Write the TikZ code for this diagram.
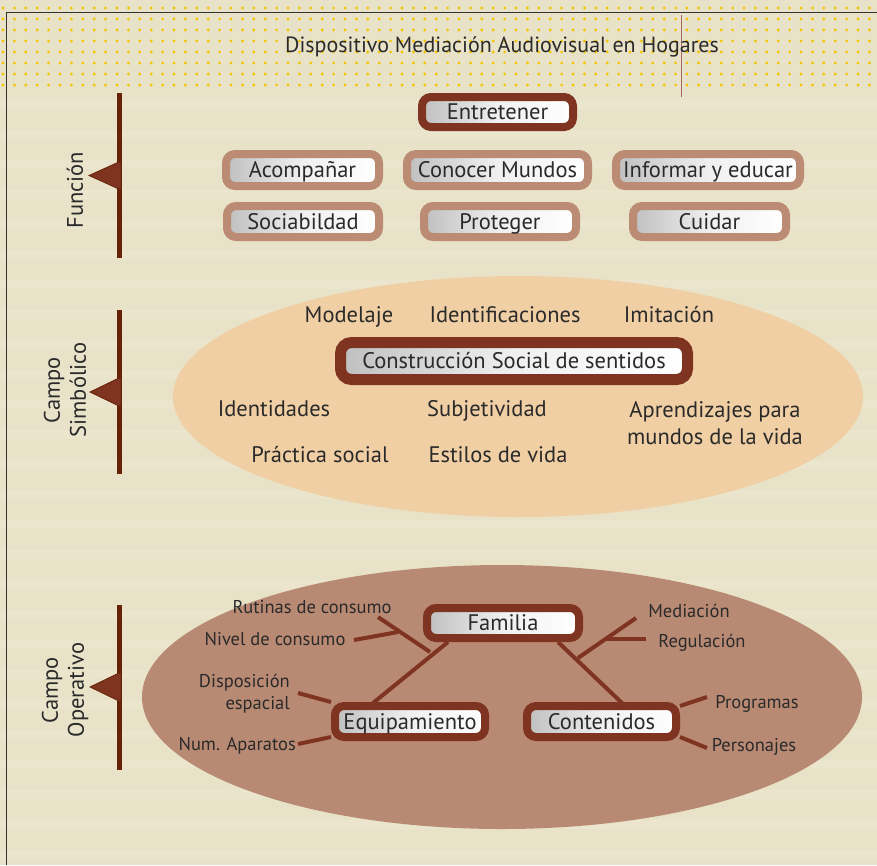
\documentclass[tikz,border=0pt]{standalone}
\usepackage{fontspec}
\setmainfont{PT Sans}
\usetikzlibrary{shapes.geometric}
\definecolor{bg}{HTML}{E8E3C8}
\definecolor{dotc}{HTML}{F5C400}
\definecolor{barc}{HTML}{652206}
\definecolor{darkb}{HTML}{7E3420}
\definecolor{lightb}{HTML}{BB8B73}
\definecolor{ellA}{HTML}{F1CFA4}
\definecolor{ellB}{HTML}{B98A73}
\definecolor{txt}{HTML}{2A2A2A}
\tikzset{
  pillbase/.style={rounded corners=9pt, text=txt, inner sep=0pt,
     left color=black!25, right color=white, middle color=white!94!black,
     font=\fontsize{22.5}{25}\selectfont, text height=17pt, text depth=2pt},
  darkpill/.style={pillbase, draw=darkb, line width=8pt},
  lightpill/.style={pillbase, draw=lightb, line width=8pt},
  lbl/.style={text=txt, font=\fontsize{22.5}{27}\selectfont, inner sep=0pt, text height=17pt, text depth=2pt},
  lbl2/.style={text=txt, font=\fontsize{22.5}{27}\selectfont, inner sep=0pt},
  slbl/.style={text=txt, font=\fontsize{18.5}{22}\selectfont, inner sep=0pt, text height=14pt, text depth=2pt},
  slbl2/.style={text=txt, font=\fontsize{18.5}{22}\selectfont, inner sep=0pt},
  side/.style={text=txt, font=\fontsize{22.5}{26}\selectfont, rotate=90, align=center, inner sep=0pt},
  bar/.style={draw=barc, line width=5pt},
  tri/.style={fill=darkb, draw=barc, line width=0.8pt},
  conn/.style={draw=darkb, line width=4pt},
}
\begin{document}
\begin{tikzpicture}[x=1pt,y=-1pt]
\useasboundingbox (0,0) rectangle (877,865);
\fill[bg] (0,0) rectangle (877,865);
% faint stripes
\foreach \yy in {100,130,...,860} {\fill[white,opacity=0.09] (0,\yy) rectangle (877,\yy+9);}
% dots
\foreach \r in {0,...,7} {
  \foreach \c in {0,...,76} {
    \fill[dotc] (3+\c*11.4, 8+\r*11) circle (1.6);
  }
}
% frame
\draw[black!80, line width=0.9pt] (877,12) -- (6,12) -- (6,865);
\draw[red!45!black!60, line width=0.5pt] (681,15) -- (681,97);
\node[text=txt, font=\fontsize{22}{24}\selectfont, inner sep=0pt] (title) at (502,47) {Dispositivo Mediación Audiovisual en Hogares};

% ---------- Funcion ----------
\draw[bar] (119,93) -- (119,258);
\fill[tri] (121,161) -- (89,175.5) -- (121,190) -- cycle;
\node[side] (fun) at (75,190) {Función};

\node[darkpill, minimum width=151, minimum height=30] (entretener) at (497.5,112) {Entretener};
\node[lightpill, minimum width=153, minimum height=32] (acomp) at (302.5,170) {Acompañar};
\node[lightpill, minimum width=181, minimum height=32] (conocer) at (497.5,170) {Conocer Mundos};
\node[lightpill, minimum width=184, minimum height=32] (informar) at (708,170) {Informar y educar};
\node[lightpill, minimum width=152, minimum height=31] (sociab) at (303,221.5) {Sociabildad};
\node[lightpill, minimum width=152, minimum height=31] (proteger) at (500,221.5) {Proteger};
\node[lightpill, minimum width=153, minimum height=31] (cuidar) at (709.5,221.5) {Cuidar};

% ---------- Campo Simbolico ----------
\draw[bar] (119,310) -- (119,474);
\fill[tri] (121,377) -- (90,392) -- (121,407) -- cycle;
\node[side] (simb) at (65,390) {Campo\\Simbólico};

\fill[ellA] (518,396.5) ellipse [x radius=345, y radius=120.5];
\node[lbl] (modelaje) at (349,315) {Modelaje};
\node[lbl] (ident) at (505,315) {Identificaciones};
\node[lbl] (imit) at (669,315) {Imitación};
\node[pillbase, draw=darkb, line width=11pt, rounded corners=11pt, minimum width=347, minimum height=37] (constr) at (514,361) {Construcción Social de sentidos};
\node[lbl] (identid) at (274,409) {Identidades};
\node[lbl] (subj) at (487,409) {Subjetividad};
\node[lbl2, align=center] (aprend) at (715,423) {Aprendizajes para\\mundos de la vida};
\node[lbl] (practica) at (320,455) {Práctica social};
\node[lbl] (estilos) at (498,455) {Estilos de vida};

% ---------- Campo Operativo ----------
\draw[bar] (119,605) -- (119,770);
\fill[tri] (121,672) -- (90,687) -- (121,702) -- cycle;
\node[side] (oper) at (65,690) {Campo\\Operativo};

\fill[ellB] (502,697) ellipse [x radius=360, y radius=132];

\coordinate (famL) at (448,642);
\coordinate (famR) at (558,642);
\coordinate (eqT) at (373,703);
\coordinate (coT) at (622,703);
\coordinate (bL) at (430,652);
\coordinate (bLend) at (378,617);
\coordinate (bL2) at (398,632);
\coordinate (bL2end) at (354,640);
\coordinate (bR) at (578,658);
\coordinate (bRend) at (636,618);
\coordinate (bR2) at (607,639);
\coordinate (bR2end) at (646,639);
\coordinate (dispE) at (298,693);
\coordinate (numE) at (298,744);
\coordinate (progE) at (707,697);
\coordinate (persE) at (707,748);

\draw[conn] (famL) -- (eqT);
\draw[conn] (famR) -- (coT);
\draw[conn] (bL) -- (bLend);
\draw[conn] (bL2) -- (bL2end);
\draw[conn] (bR) -- (bRend);
\draw[conn] (bR2) -- (bR2end);

\node[darkpill, minimum width=152, minimum height=30] (familia) at (503,623) {Familia};
\node[darkpill, minimum width=150, minimum height=31] (equip) at (410,721.5) {Equipamiento};
\node[darkpill, minimum width=149, minimum height=31] (conten) at (601.5,721.5) {Contenidos};

\draw[conn] (dispE) -- (equip.north west);
\draw[conn] (numE) -- ([yshift=4]equip.south west);
\draw[conn] (progE) -- ([yshift=-4]conten.north east);
\draw[conn] (persE) -- ([yshift=4]conten.south east);

\node[slbl] (rutinas) at (312,607) {Rutinas de consumo};
\node[slbl] (nivel) at (275,639) {Nivel de consumo};
\node[slbl2, align=right, anchor=east] (disp) at (290,694) {Disposición\\espacial};
\node[slbl, anchor=east] (num) at (296,744) {Num. Aparatos};
\node[slbl] (mediacion) at (689,611) {Mediación};
\node[slbl] (regul) at (702,641) {Regulación};
\node[slbl] (prog) at (757,702) {Programas};
\node[slbl] (pers) at (754,745) {Personajes};
\end{tikzpicture}
\end{document}
